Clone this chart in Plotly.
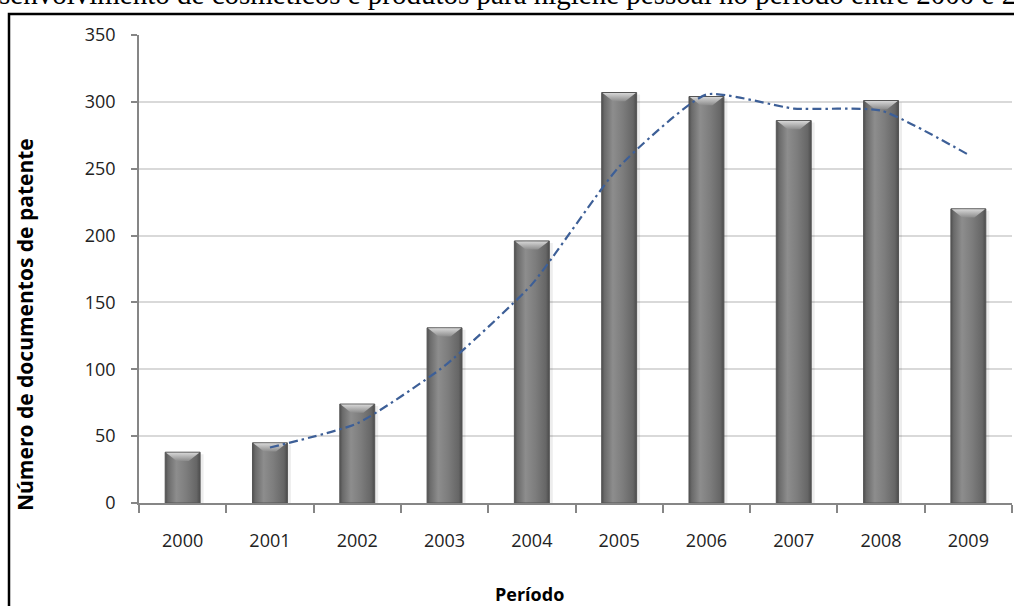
import plotly.graph_objects as go

# Patent documents per year
anos = ["2000", "2001", "2002", "2003", "2004", "2005", "2006", "2007", "2008", "2009"]
documentos = [38, 45, 74, 131, 196, 307, 304, 286, 301, 220]
# Two-period moving average trend (starts at 2001)
tendencia = [None, 41.5, 59.5, 102.5, 163.5, 251.5, 305.5, 295, 293.5, 260.5]

titulo = "senvolvimento de cosméticos e produtos para higiene pessoal no período entre 2000 e 2"
titulo_y = "Número de documentos de patente"
titulo_x = "Período"

W, H = 1014, 606
L, R, T, B = 139, 2, 35, 103
pw, ph = W - L - R, H - T - B

def px_x(p):
    return (p - L) / pw

def px_y(p):
    return (H - B - p) / ph

HALF = 0.2          # half bar width in category units
BEVEL = 6.5         # depth of the top bevel in value units

body_scale = [[0.0, "#4f4f4f"], [0.08, "#6a6a6a"], [0.32, "#8d8d8d"],
              [0.6, "#7d7d7d"], [0.9, "#666666"], [1.0, "#4c4c4c"]]
bevel_scale = [[0.0, "#8c8c8c"], [1.0, "#d6d6d6"]]

fig = go.Figure()

for i, v in enumerate(documentos):
    # soft shadow
    fig.add_trace(go.Scatter(
        x=[i - HALF + 0.03, i + HALF + 0.04, i + HALF + 0.04, i - HALF + 0.03, i - HALF + 0.03],
        y=[0, 0, v - 1.5, v - 1.5, 0],
        fill="toself", fillcolor="rgba(0,0,0,0.07)", mode="lines",
        line=dict(width=0), hoverinfo="skip", showlegend=False))
    # cylinder-like bar body
    fig.add_trace(go.Scatter(
        x=[i - HALF, i + HALF, i + HALF, i - HALF, i - HALF],
        y=[0, 0, v, v, 0],
        fill="toself",
        fillgradient=dict(type="horizontal", colorscale=body_scale),
        mode="lines", line=dict(color="#555555", width=1),
        hovertemplate=f"{anos[i]}: {v}<extra></extra>", showlegend=False))
    # light bevel on top
    fig.add_trace(go.Scatter(
        x=[i - HALF + 0.01, i + HALF - 0.01, i + HALF * 0.35, i - HALF * 0.35, i - HALF + 0.01],
        y=[v - 0.4, v - 0.4, v - BEVEL, v - BEVEL, v - 0.4],
        fill="toself",
        fillgradient=dict(type="vertical", colorscale=bevel_scale),
        mode="lines", line=dict(width=0), hoverinfo="skip", showlegend=False))

fig.add_trace(go.Scatter(
    x=list(range(len(anos))), y=tendencia, mode="lines",
    line=dict(color="#3d5f97", width=2.2, dash="9px,4px,2.5px,4px", shape="spline", smoothing=0.5),
    hoverinfo="skip", showlegend=False))

axis_col = "#868686"
tick_font = dict(family="Open Sans", size=18, color="#222222")

fig.update_layout(
    width=W, height=H, autosize=False,
    margin=dict(l=L, r=R, t=T, b=B),
    paper_bgcolor="white", plot_bgcolor="white",
    xaxis=dict(
        range=[-0.5, len(anos) - 0.5], tickmode="array",
        tickvals=list(range(len(anos))), ticktext=anos,
        ticks="outside", ticklen=0, tickfont=tick_font, ticklabelstandoff=21,
        showline=True, linecolor=axis_col, linewidth=1.5,
        showgrid=False, zeroline=False,
        minor=dict(tickmode="array", tickvals=[k - 0.5 for k in range(len(anos) + 1)],
                   ticks="outside", ticklen=8, tickcolor=axis_col, tickwidth=1.5, showgrid=False),
    ),
    yaxis=dict(
        range=[0, 350], tickvals=[0, 50, 100, 150, 200, 250, 300, 350],
        ticks="outside", ticklen=6, tickcolor=axis_col, tickwidth=1.5,
        tickfont=tick_font, ticklabelstandoff=12,
        showline=True, linecolor=axis_col, linewidth=1.5,
        showgrid=True, gridcolor="#d9d9d9", gridwidth=1.5, zeroline=False,
    ),
    shapes=[dict(type="rect", xref="paper", yref="paper",
                 x0=px_x(9), x1=px_x(1060), y0=px_y(640), y1=px_y(14),
                 line=dict(color="black", width=2.5), fillcolor="rgba(0,0,0,0)", layer="above")],
    annotations=[
        dict(text=titulo, xref="paper", yref="paper", x=px_x(-3), y=px_y(12),
             xanchor="left", yanchor="bottom", showarrow=False,
             font=dict(family="Liberation Serif", size=29, color="black")),
        dict(text=f"<b>{titulo_y}</b>", xref="paper", yref="paper",
             x=px_x(25), y=px_y(325), textangle=-90, showarrow=False,
             xanchor="center", yanchor="middle",
             font=dict(family="Open Sans", size=21, color="black")),
        dict(text=f"<b>{titulo_x}</b>", xref="paper", yref="paper",
             x=px_x(529), y=px_y(594), showarrow=False,
             xanchor="center", yanchor="middle",
             font=dict(family="Open Sans", size=18, color="black")),
    ],
)

fig.write_html("out.html")
